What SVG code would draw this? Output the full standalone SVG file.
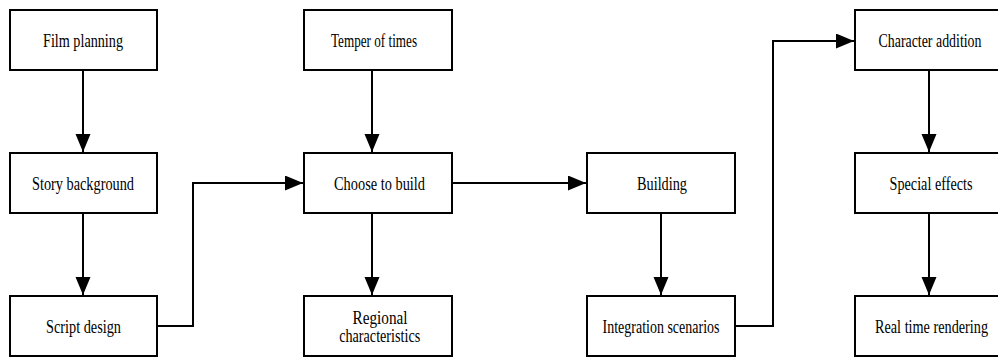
<svg xmlns="http://www.w3.org/2000/svg" width="998" height="358" viewBox="0 0 998 358">
<style>
.box{fill:#fff;stroke:#000;stroke-width:2}
.lbl{font-family:"Liberation Serif","Times New Roman",serif;font-size:18px;fill:#000;text-anchor:middle}
.edge{fill:none;stroke:#000;stroke-width:2}
</style>
<defs>
<marker id="ah" markerUnits="userSpaceOnUse" markerWidth="20" markerHeight="16" refX="18" refY="7.5" orient="auto">
<path d="M0,0 L18,7.5 L0,15 z" fill="#000"/>
</marker>
</defs>
<rect width="998" height="358" fill="#fff"/>
<g id="connectors">
<path class="edge" marker-end="url(#ah)" d="M83,71 V152"/>
<path class="edge" marker-end="url(#ah)" d="M83,214 V295"/>
<path class="edge" marker-end="url(#ah)" d="M158,326 H193 V183 H303"/>
<path class="edge" marker-end="url(#ah)" d="M372,71 V152"/>
<path class="edge" marker-end="url(#ah)" d="M372,214 V295"/>
<path class="edge" marker-end="url(#ah)" d="M453,183 H586"/>
<path class="edge" marker-end="url(#ah)" d="M661,214 V295"/>
<path class="edge" marker-end="url(#ah)" d="M736,326 H773 V41 H854"/>
<path class="edge" marker-end="url(#ah)" d="M929,71 V152"/>
<path class="edge" marker-end="url(#ah)" d="M929,214 V295"/>
</g>
<g id="film-planning"><rect class="box" x="10" y="10" width="147" height="60"/><text class="lbl" x="83" y="46.5" textLength="80" lengthAdjust="spacingAndGlyphs">Film planning</text></g>
<g id="story-background"><rect class="box" x="10" y="153" width="147" height="60"/><text class="lbl" x="83" y="190" textLength="102" lengthAdjust="spacingAndGlyphs">Story background</text></g>
<g id="script-design"><rect class="box" x="10" y="296" width="147" height="60"/><text class="lbl" x="83.5" y="333" textLength="75" lengthAdjust="spacingAndGlyphs">Script design</text></g>
<g id="temper-of-times"><rect class="box" x="304" y="10" width="148" height="60"/><text class="lbl" x="374" y="46.5" textLength="86" lengthAdjust="spacingAndGlyphs">Temper of times</text></g>
<g id="choose-to-build"><rect class="box" x="304" y="153" width="148" height="60"/><text class="lbl" x="379.5" y="190" textLength="91" lengthAdjust="spacingAndGlyphs">Choose to build</text></g>
<g id="regional-characteristics"><rect class="box" x="304" y="296" width="148" height="60"/><text class="lbl" x="380" y="323.5" textLength="55" lengthAdjust="spacingAndGlyphs">Regional</text><text class="lbl" x="379.7" y="342" textLength="81" lengthAdjust="spacingAndGlyphs">characteristics</text></g>
<g id="building"><rect class="box" x="587" y="153" width="148" height="60"/><text class="lbl" x="662" y="190" textLength="50" lengthAdjust="spacingAndGlyphs">Building</text></g>
<g id="integration-scenarios"><rect class="box" x="587" y="296" width="148" height="60"/><text class="lbl" x="661" y="333" textLength="117" lengthAdjust="spacingAndGlyphs">Integration scenarios</text></g>
<g id="character-addition"><rect class="box" x="855" y="10" width="148" height="60"/><text class="lbl" x="930" y="46.5" textLength="103" lengthAdjust="spacingAndGlyphs">Character addition</text></g>
<g id="special-effects"><rect class="box" x="855" y="153" width="148" height="60"/><text class="lbl" x="931" y="190" textLength="83" lengthAdjust="spacingAndGlyphs">Special effects</text></g>
<g id="real-time-rendering"><rect class="box" x="855" y="296" width="148" height="60"/><text class="lbl" x="931.5" y="333" textLength="113" lengthAdjust="spacingAndGlyphs">Real time rendering</text></g>
</svg>
